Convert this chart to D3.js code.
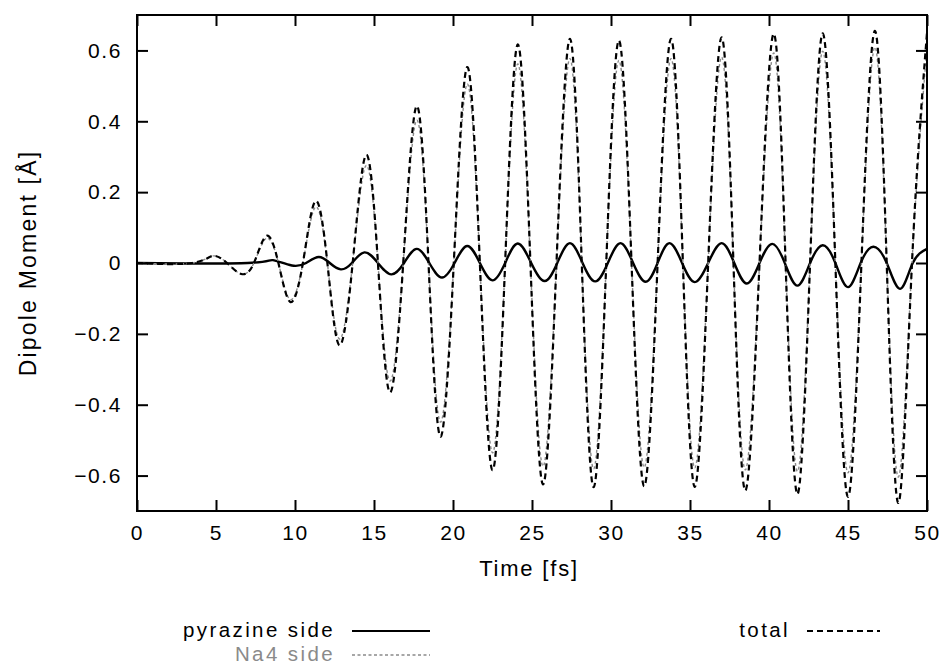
<!DOCTYPE html>
<html><head><meta charset="utf-8">
<script src="https://cdn.jsdelivr.net/npm/d3@7/dist/d3.min.js"></script>
<style>
html,body{margin:0;padding:0;background:#fff;}
text{font-family:"Liberation Sans",Arial,Helvetica,sans-serif;}
</style></head>
<body>
<svg id="chart" width="946" height="668"></svg>
<script>
// ---- data ----
const xTicks = [0,5,10,15,20,25,30,35,40,45,50];
const yTicks = [-0.6,-0.4,-0.2,0,0.2,0.4,0.6];

// time points (fs) for total / Na4 side (extrema and zero crossings)
const tTotal = [0,3.5,4.8,5.7,6.6,7.4,8.2,8.95,9.7,10.5,11.3,12.05,12.8,13.65,14.5,15.25,16.0,16.85,17.7,18.45,19.2,20.05,20.9,21.7,22.5,23.3,24.1,24.9,25.7,26.55,27.4,28.15,28.9,29.7,30.5,31.3,32.1,32.95,33.8,34.55,35.3,36.15,37.0,37.75,38.5,39.4,40.3,41.05,41.8,42.6,43.4,44.2,45.0,45.85,46.7,47.45,48.2,49.05,50];
const total = [0,0,0.02,0,-0.031,0,0.077,0,-0.11,0,0.175,0,-0.232,0,0.305,0,-0.365,0,0.443,0,-0.49,0,0.553,0,-0.585,0,0.617,0,-0.625,0,0.633,0,-0.633,0,0.628,0,-0.63,0,0.633,0,-0.632,0,0.637,0,-0.642,0,0.647,0,-0.652,0,0.648,0,-0.66,0,0.655,0,-0.677,0,0.65];
const na4 = [0,0,0.02,0,-0.031,0,0.07,0,-0.103,0,0.158,0,-0.214,0,0.275,0,-0.333,0,0.403,0,-0.449,0,0.505,0,-0.536,0,0.562,0,-0.574,0,0.577,0,-0.581,0,0.572,0,-0.577,0,0.577,0,-0.578,0,0.581,0,-0.584,0,0.593,0,-0.588,0,0.598,0,-0.592,0,0.609,0,-0.604,0,0.61];

// pyrazine side
const tPyr = [0,7.0,8.6,9.8,10.7,11.5,12.2,12.9,13.6,14.4,15.25,16.1,16.9,17.7,18.5,19.3,20.1,20.9,21.7,22.5,23.3,24.1,24.95,25.8,26.6,27.4,28.2,29.0,29.8,30.6,31.4,32.2,32.95,33.7,34.5,35.3,36.15,37.0,37.8,38.6,39.4,40.2,41.0,41.8,42.6,43.4,44.2,45.0,45.8,46.6,47.45,48.3,49.1,50];
const pyrazine = [0,0,0.008,-0.007,0,0.017,0,-0.018,0,0.03,0,-0.032,0,0.04,0,-0.041,0,0.048,0,-0.049,0,0.055,0,-0.051,0,0.056,0,-0.052,0,0.056,0,-0.053,0,0.056,0,-0.054,0,0.056,0,-0.058,0,0.054,0,-0.064,0,0.05,0,-0.068,0,0.046,0,-0.073,0,0.04];

const seriesNames = ["pyrazine side","Na4 side","total"];

// ---- layout ----
const svg = d3.select("#chart");
const L = 137, R = 927, T = 15, B = 511;
const x = d3.scaleLinear().domain([0,50]).range([L,R]);
const y = d3.scaleLinear().domain([-0.7,0.7]).range([B,T]);
const fontSize = 21, ls = "1.6px";

svg.append("defs").append("clipPath").attr("id","clip")
  .append("rect").attr("x",L).attr("y",T).attr("width",R-L).attr("height",B-T);

const line = d3.line().x(d=>x(d[0])).y(d=>y(d[1])).curve(d3.curveNatural);
const zip = (a,b)=>a.map((v,i)=>[v,b[i]]);

const g = svg.append("g").attr("clip-path","url(#clip)");
g.append("path").attr("d",line(zip(tPyr,pyrazine)))
  .attr("fill","none").attr("stroke","#000").attr("stroke-width",2.4);
g.append("path").attr("d",line(zip(tTotal,na4)))
  .attr("fill","none").attr("stroke","#8a8a8a").attr("stroke-width",1.4).attr("stroke-dasharray","3,2.5");
g.append("path").attr("d",line(zip(tTotal,total)))
  .attr("fill","none").attr("stroke","#000").attr("stroke-width",2.2).attr("stroke-dasharray","6,4");

// axes (ticks inward on all sides)
const tickLen = 11;
const fmtY = d => d===0 ? "0" : d3.format(".1f")(d);
const axB = d3.axisBottom(x).tickValues(xTicks).tickSize(-tickLen).tickPadding(14).tickFormat(d3.format("d"));
const axT = d3.axisTop(x).tickValues(xTicks).tickSize(-tickLen).tickFormat("");
const axL = d3.axisLeft(y).tickValues(yTicks).tickSize(-tickLen).tickPadding(15).tickFormat(fmtY);
const axR = d3.axisRight(y).tickValues(yTicks).tickSize(-tickLen).tickFormat("");

function style(sel){
  sel.select(".domain").remove();
  sel.selectAll(".tick line").attr("stroke","#000").attr("stroke-width",2);
  sel.selectAll(".tick text").attr("font-size",fontSize).attr("fill","#000").style("letter-spacing",ls)
     .attr("font-family","Liberation Sans, Arial, sans-serif");
}
svg.append("g").attr("transform",`translate(0,${B})`).call(axB).call(style);
svg.append("g").attr("transform",`translate(0,${T})`).call(axT).call(style);
svg.append("g").attr("transform",`translate(${L},0)`).call(axL).call(style);
svg.append("g").attr("transform",`translate(${R},0)`).call(axR).call(style);

svg.append("rect").attr("x",L).attr("y",T).attr("width",R-L).attr("height",B-T)
  .attr("fill","none").attr("stroke","#000").attr("stroke-width",2);

// axis titles
svg.append("text").attr("x",(L+R)/2 - 3).attr("y",576).attr("text-anchor","middle")
  .attr("font-size",22).style("letter-spacing","1.8px").text("Time [fs]");
svg.append("text").attr("transform",`translate(36,${(T+B)/2}) rotate(-90)`).attr("text-anchor","middle")
  .attr("font-size",23).style("letter-spacing","2.2px").text("Dipole Moment [Å]");

// legend
const legend = [
  {name:seriesNames[0], tx:335, ty:637, x1:352, x2:430, ly:631, color:"#000", tcolor:"#000", dash:null, w:2},
  {name:seriesNames[1], tx:335, ty:661, x1:352, x2:430, ly:655, color:"#8a8a8a", tcolor:"#8a8a8a", dash:"3,2.5", w:1.4},
  {name:seriesNames[2], tx:790, ty:637, x1:807, x2:880, ly:631, color:"#000", tcolor:"#000", dash:"6,4", w:1.8}
];
legend.forEach(l=>{
  svg.append("text").attr("x",l.tx).attr("y",l.ty).attr("text-anchor","end")
    .attr("font-size",20.5).style("letter-spacing","2.4px").attr("fill",l.tcolor).text(l.name);
  svg.append("line").attr("x1",l.x1).attr("x2",l.x2).attr("y1",l.ly).attr("y2",l.ly)
    .attr("stroke",l.color).attr("stroke-width",l.w).attr("stroke-dasharray",l.dash);
});
</script>
</body></html>
